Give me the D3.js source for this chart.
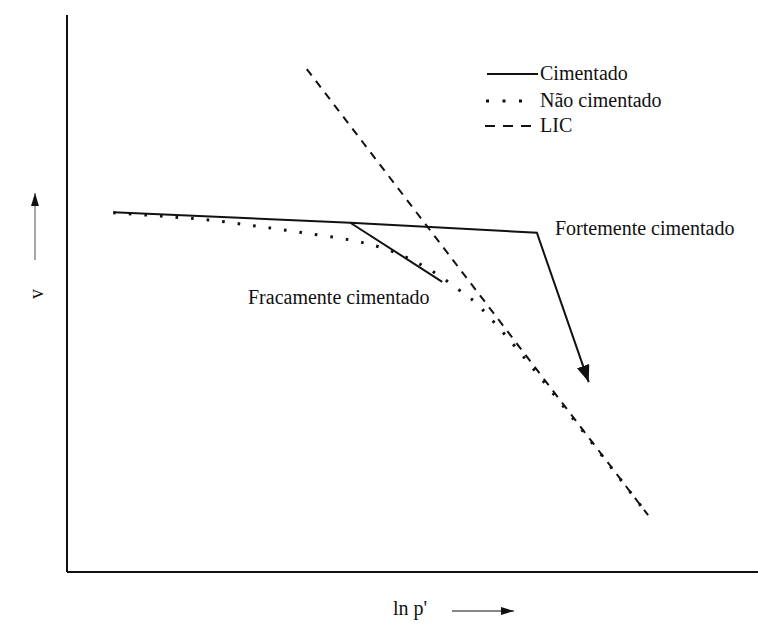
<!DOCTYPE html>
<html>
<head>
<meta charset="utf-8">
<script src="https://cdn.jsdelivr.net/npm/d3@7"></script>
<style>
  html, body { margin: 0; padding: 0; background: #fff; }
  svg { display: block; }
</style>
</head>
<body>
<svg id="chart"></svg>
<script>
// values, in arbitrary (ln p', v) units
const cimentadoForte = [[0.67, 6.46], [4.10, 6.27], [6.80, 6.09], [7.55, 3.41]];
const cimentadoFraco = [[4.10, 6.27], [5.43, 5.21]];
const naoCimentado = [
  [0.67, 6.45], [1.35, 6.39], [2.05, 6.32], [2.74, 6.21], [3.42, 6.09],
  [4.10, 5.96], [4.56, 5.82], [4.96, 5.62], [5.35, 5.35], [5.73, 5.01],
  [5.90, 4.85], [6.38, 4.20], [7.11, 3.09], [7.71, 2.14], [8.41, 1.02]
];
const lic = [[3.47, 9.03], [8.41, 1.02]];
const legendLabels = ["Cimentado", "Não cimentado", "LIC"];
const annotations = ["Fortemente cimentado", "Fracamente cimentado"];
const axisLabels = ["v", "ln p'"];

const width = 758, height = 626;
const serif = "'Liberation Serif', 'Times New Roman', serif";

const svg = d3.select("svg#chart")
    .attr("width", width)
    .attr("height", height)
    .attr("viewBox", [0, 0, width, height]);

const x = d3.scaleLinear().domain([0, 10]).range([67, 758]);
const y = d3.scaleLinear().domain([0, 10]).range([572, 15]);

const defs = svg.append("defs");
function arrowMarker(id, len, half) {
  defs.append("marker")
      .attr("id", id)
      .attr("markerUnits", "userSpaceOnUse")
      .attr("viewBox", `0 ${-half} ${len} ${2 * half}`)
      .attr("markerWidth", len)
      .attr("markerHeight", 2 * half)
      .attr("refX", len)
      .attr("refY", 0)
      .attr("orient", "auto")
    .append("path")
      .attr("d", `M0,${-half}L${len},0L0,${half}Z`)
      .attr("fill", "#111");
}
arrowMarker("big-arrow", 17, 6.5);
arrowMarker("small-arrow", 13, 4);

function label(sel) {
  return sel.attr("font-size", 20)
      .attr("fill", "#111")
      .style("font-family", serif);
}

// axes (plain frame lines, no ticks)
svg.append("line")
    .attr("x1", x(0)).attr("x2", x(0))
    .attr("y1", y(10)).attr("y2", y(0))
    .attr("stroke", "#111").attr("stroke-width", 2);
svg.append("line")
    .attr("x1", x(0)).attr("x2", x(10))
    .attr("y1", y(0)).attr("y2", y(0))
    .attr("stroke", "#111").attr("stroke-width", 2.2);

const line = d3.line().x(d => x(d[0])).y(d => y(d[1]));
const curve = d3.line().x(d => x(d[0])).y(d => y(d[1])).curve(d3.curveCatmullRom);

// LIC
svg.append("path")
    .attr("d", line(lic))
    .attr("fill", "none")
    .attr("stroke", "#111")
    .attr("stroke-width", 2)
    .attr("stroke-dasharray", "8,7");

// nao cimentado
svg.append("path")
    .attr("d", curve(naoCimentado))
    .attr("fill", "none")
    .attr("stroke", "#111")
    .attr("stroke-width", 3)
    .attr("stroke-dasharray", "2.6,13");

// cimentado
svg.append("path")
    .attr("d", line(cimentadoForte))
    .attr("fill", "none")
    .attr("stroke", "#111")
    .attr("stroke-width", 2)
    .attr("stroke-linejoin", "miter")
    .attr("marker-end", "url(#big-arrow)");

svg.append("path")
    .attr("d", line(cimentadoFraco))
    .attr("fill", "none")
    .attr("stroke", "#111")
    .attr("stroke-width", 2);

// legend
const legendStyles = [
  {dash: null, w: 2, x1: 487, x2: 538},
  {dash: "3,13.5", w: 3, x1: 486, x2: 523},
  {dash: "10,8", w: 2, x1: 485, x2: 533}
];
const legendRows = [74, 101, 126];
const legend = svg.append("g");
legendLabels.forEach((lab, i) => {
  const s = legendStyles[i];
  legend.append("line")
      .attr("x1", s.x1).attr("x2", s.x2)
      .attr("y1", legendRows[i]).attr("y2", legendRows[i])
      .attr("stroke", "#111")
      .attr("stroke-width", s.w)
      .attr("stroke-dasharray", s.dash);
  legend.append("text")
      .attr("x", 540)
      .attr("y", legendRows[i] + 6)
      .call(label)
      .text(lab);
});

// annotations
svg.append("text")
    .attr("x", 555).attr("y", 235)
    .call(label)
    .text(annotations[0]);
svg.append("text")
    .attr("x", 248).attr("y", 304)
    .call(label)
    .text(annotations[1]);

// axis labels with arrows
svg.append("text")
    .attr("transform", "translate(43,294) rotate(-90)")
    .attr("text-anchor", "middle")
    .call(label)
    .text(axisLabels[0]);
svg.append("line")
    .attr("x1", 35).attr("x2", 35)
    .attr("y1", 260).attr("y2", 193)
    .attr("stroke", "#777").attr("stroke-width", 1.3)
    .attr("marker-end", "url(#small-arrow)");

svg.append("text")
    .attr("x", 393).attr("y", 615)
    .call(label)
    .text(axisLabels[1]);
svg.append("line")
    .attr("x1", 452).attr("x2", 514)
    .attr("y1", 611).attr("y2", 611)
    .attr("stroke", "#111").attr("stroke-width", 1.2)
    .attr("marker-end", "url(#small-arrow)");
</script>
</body>
</html>
